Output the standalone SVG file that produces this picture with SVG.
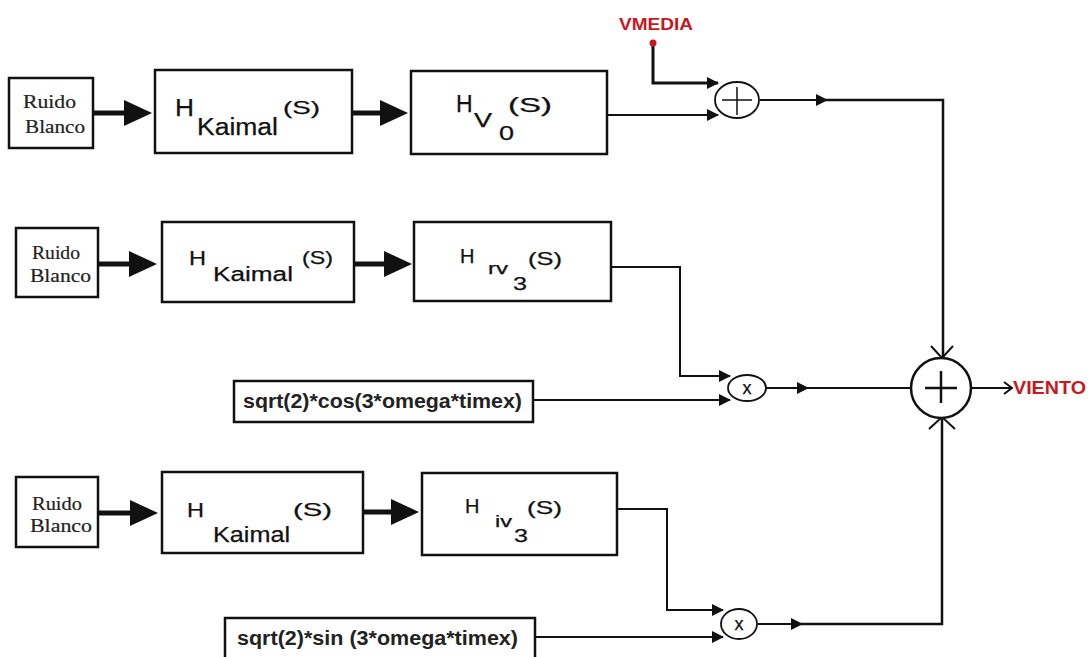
<svg xmlns="http://www.w3.org/2000/svg" width="1088" height="657" viewBox="0 0 1088 657">
<style>
.box{fill:#fff;stroke:#111;stroke-width:2.5}
.rb{font-family:"Liberation Serif",serif;font-size:19px;fill:#222;stroke:#222;stroke-width:0.2}
.h{font-family:"Liberation Sans",Arial,sans-serif;fill:#111;stroke:#111;stroke-width:0.25}
.fn{font-family:"Liberation Sans",Arial,sans-serif;font-weight:bold;font-size:20px;fill:#222}
.red{font-family:"Liberation Sans",Arial,sans-serif;font-weight:bold;fill:#c8171e}
.ln{fill:none;stroke:#111;stroke-width:2}
.thk{fill:none;stroke:#111;stroke-width:5}
.circ{fill:#fff;stroke:#111;stroke-width:1.8}
</style>
<defs>
<marker id="a" viewBox="0 0 12 12" refX="11" refY="6" markerWidth="13" markerHeight="12" markerUnits="userSpaceOnUse" orient="auto"><path d="M0,0 L12,6 L0,12 z" fill="#111"/></marker>
<marker id="b" viewBox="0 0 28 28" refX="2" refY="14" markerWidth="28" markerHeight="28" markerUnits="userSpaceOnUse" orient="auto"><path d="M0,1 L28,14 L0,27 z" fill="#111"/></marker>
</defs>

<g id="connectors">
  <path class="thk" d="M93,113 L126,113" marker-end="url(#b)"/>
  <path class="thk" d="M352,113 L382,113" marker-end="url(#b)"/>
  <path class="thk" d="M98,264 L131,264" marker-end="url(#b)"/>
  <path class="thk" d="M354,264 L386,264" marker-end="url(#b)"/>
  <path class="thk" d="M98,513 L132,513" marker-end="url(#b)"/>
  <path class="thk" d="M363,512 L393,512" marker-end="url(#b)"/>
  <path class="ln" style="stroke-width:3" d="M653,43 L653,83 L718,83" marker-end="url(#a)"/>
  <path class="ln" d="M607,115 L718,115" marker-end="url(#a)"/>
  <path class="ln" d="M760,100 L827,100" marker-end="url(#a)"/>
  <path class="ln" style="stroke-width:2.5" d="M825,100 L943,100 L943,357"/>
  <path class="ln" d="M931,346 L942,358 L953,346"/>
  <path class="ln" d="M611,267 L680,267 L680,376 L730,376" marker-end="url(#a)"/>
  <path class="ln" d="M533,400 L730,400" marker-end="url(#a)"/>
  <path class="ln" d="M766,388 L808,388" marker-end="url(#a)"/>
  <path class="ln" d="M806,388 L911,388"/>
  <path class="ln" d="M617,509 L667,509 L667,610 L723,610" marker-end="url(#a)"/>
  <path class="ln" d="M535,637 L723,637" marker-end="url(#a)"/>
  <path class="ln" d="M758,624 L802,624" marker-end="url(#a)"/>
  <path class="ln" style="stroke-width:2.5" d="M800,624 L942,624 L942,418"/>
  <path class="ln" d="M929,429 L942,417 L955,429"/>
  <path class="ln" d="M971,388 L1012,388"/>
  <path class="ln" d="M1004,382 L1012,388 L1004,394"/>
</g>

<g id="ruido1">
  <rect class="box" x="9" y="78" width="84" height="70"/>
  <text class="rb" x="23" y="108" textLength="53" lengthAdjust="spacingAndGlyphs">Ruido</text>
  <text class="rb" x="25" y="133" textLength="60" lengthAdjust="spacingAndGlyphs">Blanco</text>
</g>
<g id="kaimal1">
  <rect class="box" x="155" y="70" width="197" height="83"/>
  <text class="h" x="175" y="116" font-size="23" textLength="19" lengthAdjust="spacingAndGlyphs">H</text>
  <text class="h" x="197" y="135" font-size="23" textLength="81" lengthAdjust="spacingAndGlyphs">Kaimal</text>
  <text class="h" x="283" y="114" font-size="19" textLength="37" lengthAdjust="spacingAndGlyphs">(S)</text>
</g>
<g id="hv0">
  <rect class="box" x="411" y="71" width="196" height="83"/>
  <text class="h" x="456" y="112" font-size="23">H</text>
  <text class="h" x="474" y="127" font-size="20" textLength="18" lengthAdjust="spacingAndGlyphs">V</text>
  <text class="h" x="499" y="140" font-size="20" textLength="15" lengthAdjust="spacingAndGlyphs">0</text>
  <text class="h" x="508" y="112" font-size="21" textLength="44" lengthAdjust="spacingAndGlyphs">(S)</text>
</g>
<g id="sum1">
  <ellipse class="circ" cx="737" cy="100" rx="22" ry="18"/>
  <path class="ln" style="stroke-width:1.5" d="M722,100 L752,100 M737,87 L737,115"/>
</g>
<g id="vmedia">
  <circle cx="653" cy="43" r="3.5" fill="#d0141c"/>
  <text class="red" x="619" y="30" font-size="16" textLength="74" lengthAdjust="spacingAndGlyphs">VMEDIA</text>
</g>

<g id="ruido2">
  <rect class="box" x="16" y="228" width="82" height="69"/>
  <text class="rb" x="32" y="259" textLength="48" lengthAdjust="spacingAndGlyphs">Ruido</text>
  <text class="rb" x="30" y="282" textLength="61" lengthAdjust="spacingAndGlyphs">Blanco</text>
</g>
<g id="kaimal2">
  <rect class="box" x="162" y="222" width="192" height="80"/>
  <text class="h" x="189" y="265" font-size="21" textLength="17" lengthAdjust="spacingAndGlyphs">H</text>
  <text class="h" x="213" y="281" font-size="20" textLength="80" lengthAdjust="spacingAndGlyphs">Kaimal</text>
  <text class="h" x="302" y="264" font-size="18" textLength="31" lengthAdjust="spacingAndGlyphs">(S)</text>
</g>
<g id="hrv3">
  <rect class="box" x="414" y="222" width="197" height="79"/>
  <text class="h" x="460" y="263" font-size="20">H</text>
  <text class="h" x="488" y="274" font-size="16" textLength="20" lengthAdjust="spacingAndGlyphs">rv</text>
  <text class="h" x="513" y="290" font-size="19" textLength="14" lengthAdjust="spacingAndGlyphs">3</text>
  <text class="h" x="528" y="265" font-size="19" textLength="34" lengthAdjust="spacingAndGlyphs">(S)</text>
</g>
<g id="cosbox">
  <rect class="box" x="234" y="381" width="299" height="41"/>
  <text class="fn" x="243" y="408" textLength="279" lengthAdjust="spacingAndGlyphs">sqrt(2)*cos(3*omega*timex)</text>
</g>
<g id="mult1">
  <ellipse class="circ" cx="747" cy="388" rx="19" ry="13"/>
  <text class="h" x="747" y="394" font-size="18" text-anchor="middle">x</text>
</g>

<g id="ruido3">
  <rect class="box" x="16" y="477" width="82" height="70"/>
  <text class="rb" x="32" y="510" textLength="50" lengthAdjust="spacingAndGlyphs">Ruido</text>
  <text class="rb" x="30" y="532" textLength="62" lengthAdjust="spacingAndGlyphs">Blanco</text>
</g>
<g id="kaimal3">
  <rect class="box" x="162" y="472" width="201" height="81"/>
  <text class="h" x="187" y="517" font-size="21" textLength="17" lengthAdjust="spacingAndGlyphs">H</text>
  <text class="h" x="213" y="542" font-size="22" textLength="77" lengthAdjust="spacingAndGlyphs">Kaimal</text>
  <text class="h" x="293" y="516" font-size="19" textLength="39" lengthAdjust="spacingAndGlyphs">(S)</text>
</g>
<g id="hiv3">
  <rect class="box" x="422" y="473" width="195" height="82"/>
  <text class="h" x="465" y="513" font-size="20">H</text>
  <text class="h" x="495" y="527" font-size="17" textLength="17" lengthAdjust="spacingAndGlyphs">iv</text>
  <text class="h" x="514" y="542" font-size="19" textLength="14" lengthAdjust="spacingAndGlyphs">3</text>
  <text class="h" x="527" y="514" font-size="19" textLength="35" lengthAdjust="spacingAndGlyphs">(S)</text>
</g>
<g id="sinbox">
  <rect class="box" x="225" y="618" width="310" height="45"/>
  <text class="fn" x="237" y="645" textLength="281" lengthAdjust="spacingAndGlyphs">sqrt(2)*sin (3*omega*timex)</text>
</g>
<g id="mult2">
  <ellipse class="circ" cx="739" cy="624" rx="18" ry="15"/>
  <text class="h" x="739" y="630" font-size="18" text-anchor="middle">x</text>
</g>

<g id="sumbig">
  <circle cx="941" cy="388" r="30" fill="#fff" stroke="#111" stroke-width="2.5"/>
  <path class="ln" style="stroke-width:2.5" d="M925,388 L957,388 M941,371 L941,403"/>
</g>
<g id="viento">
  <text class="red" x="1013" y="394" font-size="19" textLength="73" lengthAdjust="spacingAndGlyphs">VIENTO</text>
</g>
</svg>
